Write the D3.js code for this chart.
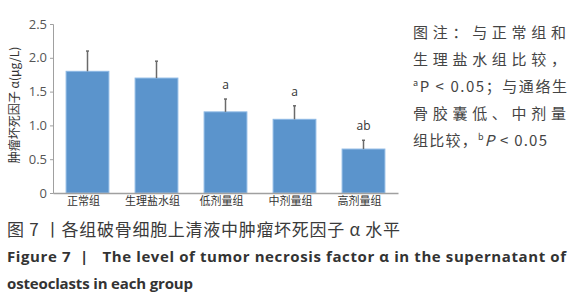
<!DOCTYPE html>
<html>
<head>
<meta charset="utf-8">
<script src="https://cdn.jsdelivr.net/npm/d3@7"></script>
<style>
  body { margin: 0; background: #fff; }
  svg { display: block; }
</style>
</head>
<body>
<div id="chart"></div>
<script>
// data
var groups = ["正常组", "生理盐水组", "低剂量组", "中剂量组", "高剂量组"];
var means = [1.80, 1.70, 1.20, 1.09, 0.65];
var errs = [0.30, 0.25, 0.19, 0.20, 0.13];
var marks = ["", "", "a", "a", "ab"];
var yTicks = [0, 0.5, 1.0, 1.5, 2.0, 2.5];
var yTickLabels = ["0", "0.5", "1.0", "1.5", "2.0", "2.5"];

var W = 579, H = 300;
var plot = {left: 53, right: 398, top: 24, bottom: 193};

var svg = d3.select("#chart").append("svg")
    .attr("width", W)
    .attr("height", H)
    .style("font-family", "'Noto Sans CJK SC', 'Open Sans', sans-serif");

var x = d3.scaleBand()
  .domain(groups)
  .range([plot.left, plot.right])
  .paddingInner(0.38)
  .paddingOuter(0.19);

var y = d3.scaleLinear()
  .domain([0, 2.5])
  .range([plot.bottom, plot.top]);

// y axis
var yAxis = svg.append("g")
  .attr("transform", "translate(" + plot.left + ",0)")
  .call(d3.axisLeft(y).tickValues(yTicks).tickSize(3)
    .tickFormat(function(d, i) { return yTickLabels[i]; }));
yAxis.select(".domain").attr("stroke", "#a0a0a0");
yAxis.selectAll(".tick line").attr("stroke", "#a0a0a0");
yAxis.selectAll("text")
  .attr("fill", "#555")
  .style("font-family", "'Open Sans', sans-serif")
  .style("font-size", "13px");

// bars
svg.selectAll("rect.bar")
  .data(means)
  .enter()
  .append("rect")
    .attr("class", "bar")
    .attr("x", function(d, i) { return x(groups[i]); })
    .attr("y", function(d) { return y(d); })
    .attr("width", x.bandwidth())
    .attr("height", function(d) { return y(0) - y(d); })
    .attr("fill", "#5b94cc")
    .attr("stroke", "#8cb8e4")
    .attr("stroke-width", 1);

// error bars
svg.selectAll("line.err")
  .data(means)
  .enter()
  .append("line")
    .attr("class", "err")
    .attr("x1", function(d, i) { return x(groups[i]) + x.bandwidth() / 2; })
    .attr("x2", function(d, i) { return x(groups[i]) + x.bandwidth() / 2; })
    .attr("y1", function(d) { return y(d); })
    .attr("y2", function(d, i) { return y(d + errs[i]); })
    .attr("stroke", "#6a6a6a")
    .attr("stroke-width", 1.5);

svg.selectAll("line.cap")
  .data(means)
  .enter()
  .append("line")
    .attr("class", "cap")
    .attr("x1", function(d, i) { return x(groups[i]) + x.bandwidth() / 2 - 1.5; })
    .attr("x2", function(d, i) { return x(groups[i]) + x.bandwidth() / 2 + 1.5; })
    .attr("y1", function(d, i) { return y(d + errs[i]); })
    .attr("y2", function(d, i) { return y(d + errs[i]); })
    .attr("stroke", "#6a6a6a")
    .attr("stroke-width", 1.5);

// significance letters
svg.selectAll("text.mark")
  .data(means)
  .enter()
  .append("text")
    .attr("class", "mark")
    .attr("x", function(d, i) { return x(groups[i]) + x.bandwidth() / 2; })
    .attr("y", function(d, i) { return y(d + errs[i]) - 10; })
    .attr("text-anchor", "middle")
    .attr("fill", "#333")
    .style("font-family", "'Open Sans', sans-serif")
    .style("font-size", "12px")
    .text(function(d, i) { return marks[i]; });

// x axis
var xAxis = svg.append("g")
  .attr("transform", "translate(0," + plot.bottom + ")")
  .call(d3.axisBottom(x).tickSize(0).tickPadding(4));
xAxis.select(".domain").attr("stroke", "#a0a0a0").attr("stroke-width", 1.5);
xAxis.selectAll("text")
  .attr("fill", "#333")
  .attr("dx", "-4")
  .style("font-family", "'Noto Sans CJK SC', sans-serif")
  .style("font-size", "11px");

// y axis title
svg.append("text")
  .attr("transform", "translate(19,105) rotate(-90)")
  .attr("text-anchor", "middle")
  .attr("fill", "#333")
  .style("font-size", "12px")
  .text("肿瘤坏死因子 α(μg/L)");

// note on the right
var note = svg.append("g")
  .attr("fill", "#444")
  .style("font-size", "15px")
  .style("font-family", "'Noto Sans CJK SC', sans-serif");
var noteLines = [
  [{t: "图注：与正常组和"}],
  [{t: "生理盐水组比较，"}],
  [{t: "a", sup: true}, {t: "P < 0.05；与通络生"}],
  [{t: "骨胶囊低、中剂量"}],
  [{t: "组比较，"}, {t: "b", sup: true}, {t: "P", it: true}, {t: " < 0.05"}]
];
var noteWidths = [153, 153, 154, 153, 134];
noteLines.forEach(function(line, i) {
  var t = note.append("text")
    .attr("x", 413)
    .attr("y", 38 + i * 27)
    .attr("textLength", noteWidths[i])
    .attr("lengthAdjust", "spacing");
  line.forEach(function(seg, k) {
    var s = t.append("tspan").text(seg.t);
    if (seg.sup) s.attr("dy", "-6").style("font-size", "9px");
    else if (k > 0 && line[k - 1].sup) s.attr("dy", "6");
    if (seg.it) s.style("font-style", "italic");
  });
});

// captions
svg.append("text")
  .attr("x", 7).attr("y", 236)
  .attr("fill", "#3a3a3a")
  .attr("textLength", 393).attr("lengthAdjust", "spacing")
  .style("font-size", "17px")
  .style("font-family", "'Noto Sans CJK SC', sans-serif")
  .text("图 7 丨各组破骨细胞上清液中肿瘤坏死因子 α 水平");

svg.append("text")
  .attr("x", 7).attr("y", 262)
  .attr("fill", "#333")
  .attr("textLength", 559).attr("lengthAdjust", "spacing")
  .style("white-space", "pre")
  .style("font-size", "15px")
  .style("font-weight", "bold")
  .style("font-family", "'Open Sans', sans-serif")
  .text("Figure 7  |   The level of tumor necrosis factor α in the supernatant of");

svg.append("text")
  .attr("x", 7).attr("y", 289)
  .attr("fill", "#333")
  .attr("textLength", 186).attr("lengthAdjust", "spacing")
  .style("font-size", "15px")
  .style("font-weight", "bold")
  .style("font-family", "'Open Sans', sans-serif")
  .text("osteoclasts in each group");
</script>
</body>
</html>
